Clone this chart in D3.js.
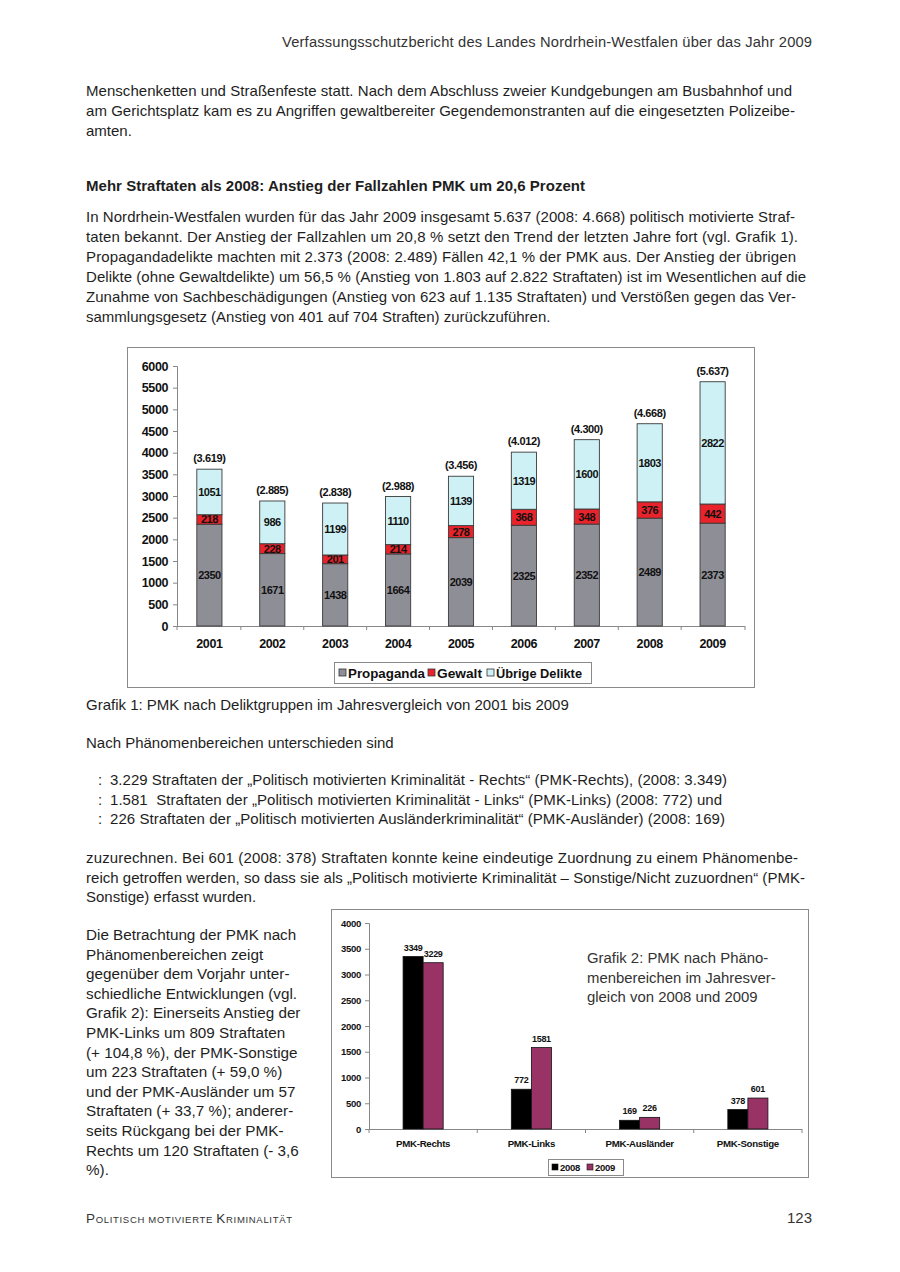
<!DOCTYPE html>
<html>
<head>
<meta charset="utf-8">
<script src="https://cdn.jsdelivr.net/npm/d3@7"></script>
<style>
  body { margin: 0; background: #fff; }
  text { font-family: "Liberation Sans", Arial, sans-serif; white-space: pre; }
</style>
</head>
<body>
<script>
// Grafik 1 data
const years = ["2001", "2002", "2003", "2004", "2005", "2006", "2007", "2008", "2009"]
const propaganda = [2350, 1671, 1438, 1664, 2039, 2325, 2352, 2489, 2373]
const gewalt = [218, 228, 201, 214, 278, 368, 348, 376, 442]
const uebrige = [1051, 986, 1199, 1110, 1139, 1319, 1600, 1803, 2822]
const keys1 = ["Propaganda", "Gewalt", "Übrige Delikte"]
const colors1 = ["#8e8e96", "#e8232b", "#cdf1f5"]
const yTicks1 = [0, 500, 1000, 1500, 2000, 2500, 3000, 3500, 4000, 4500, 5000, 5500, 6000]

// Grafik 2 data
const bereiche = ["PMK-Rechts", "PMK-Links", "PMK-Ausländer", "PMK-Sonstige"]
const jahre2 = ["2008", "2009"]
const werte2008 = [3349, 772, 169, 378]
const werte2009 = [3229, 1581, 226, 601]
const colors2 = ["#000000", "#993366"]
const yTicks2 = [0, 500, 1000, 1500, 2000, 2500, 3000, 3500, 4000]

const svg = d3.select("body").append("svg")
  .attr("width", 900)
  .attr("height", 1272)

svg.append("rect").attr("width", 900).attr("height", 1272).attr("fill", "#fff")

const ink = "#1e1e1e"

// draws one text line, stretched to the right edge if one is given
function line(txt, x, y, opts = {}) {
  let t = svg.append("text")
    .attr("x", x)
    .attr("y", y)
    .attr("font-size", opts.size || 15)
    .attr("font-weight", opts.bold ? "bold" : "normal")
    .attr("fill", opts.fill || ink)
    .attr("text-anchor", opts.anchor || "start")
    .text(txt)
  if (opts.end) {
    t.attr("textLength", opts.end - x).attr("lengthAdjust", "spacing")
  }
  return t
}

// ---- page text ----
line("Verfassungsschutzbericht des Landes Nordrhein-Westfalen über das Jahr 2009", 282, 47, { size: 14.7, fill: "#333", end: 812 })

line("Menschenketten und Straßenfeste statt. Nach dem Abschluss zweier Kundgebungen am Busbahnhof und", 86, 96, { end: 792 })
line("am Gerichtsplatz kam es zu Angriffen gewaltbereiter Gegendemonstranten auf die eingesetzten Polizeibe-", 86, 116, { end: 795 })
line("amten.", 86, 136)

line("Mehr Straftaten als 2008: Anstieg der Fallzahlen PMK um 20,6 Prozent", 86, 191, { bold: true, size: 15, end: 585 })

const p2 = [
  ["In Nordrhein-Westfalen wurden für das Jahr 2009 insgesamt 5.637 (2008: 4.668) politisch motivierte Straf-", 795],
  ["taten bekannt. Der Anstieg der Fallzahlen um 20,8 % setzt den Trend der letzten Jahre fort (vgl. Grafik 1).", 798],
  ["Propagandadelikte machten mit 2.373 (2008: 2.489) Fällen 42,1 % der PMK aus. Der Anstieg der übrigen", 796],
  ["Delikte (ohne Gewaltdelikte) um 56,5 % (Anstieg von 1.803 auf 2.822 Straftaten) ist im Wesentlichen auf die", 806],
  ["Zunahme von Sachbeschädigungen (Anstieg von 623 auf 1.135 Straftaten) und Verstößen gegen das Ver-", 796],
  ["sammlungsgesetz (Anstieg von 401 auf 704 Straften) zurückzuführen.", null]
]
p2.forEach((d, i) => line(d[0], 86, 222 + i * 20, d[1] ? { end: d[1] } : {}))

line("Grafik 1: PMK nach Deliktgruppen im Jahresvergleich von 2001 bis 2009", 86, 710)
line("Nach Phänomenbereichen unterschieden sind", 86, 748)

const bullets = [
  ["3.229 Straftaten der „Politisch motivierten Kriminalität - Rechts“ (PMK-Rechts), (2008: 3.349)", 727],
  ["1.581  Straftaten der „Politisch motivierten Kriminalität - Links“ (PMK-Links) (2008: 772) und", 722],
  ["226 Straftaten der „Politisch motivierten Ausländerkriminalität“ (PMK-Ausländer) (2008: 169)", 725]
]
bullets.forEach((b, i) => {
  let y = 785 + i * 19.5
  line(":", 98, y)
  line(b[0], 110, y, { end: b[1] })
})

line("zuzurechnen. Bei 601 (2008: 378) Straftaten konnte keine eindeutige Zuordnung zu einem Phänomenbe-", 86, 863, { end: 798 })
line("reich getroffen werden, so dass sie als „Politisch motivierte Kriminalität – Sonstige/Nicht zuzuordnen“ (PMK-", 86, 883, { end: 805 })
line("Sonstige) erfasst wurden.", 86, 902)

const leftCol = [
  "Die Betrachtung der PMK nach",
  "Phänomenbereichen zeigt",
  "gegenüber dem Vorjahr unter-",
  "schiedliche Entwicklungen (vgl.",
  "Grafik 2): Einerseits Anstieg der",
  "PMK-Links um 809 Straftaten",
  "(+ 104,8 %), der PMK-Sonstige",
  "um 223 Straftaten (+ 59,0 %)",
  "und der PMK-Ausländer um 57",
  "Straftaten (+ 33,7 %); anderer-",
  "seits Rückgang bei der PMK-",
  "Rechts um 120 Straftaten (- 3,6",
  "%)."
]
leftCol.forEach((t, i) => line(t, 86, 940 + i * 19.6, { size: 15.25 }))

// footer in small caps
let foot = svg.append("text").attr("x", 86).attr("y", 1223).attr("fill", "#333")
  .attr("textLength", 206).attr("lengthAdjust", "spacing")
foot.append("tspan").attr("font-size", 13.5).text("P")
foot.append("tspan").attr("font-size", 9.5).text("OLITISCH MOTIVIERTE ")
foot.append("tspan").attr("font-size", 13.5).text("K")
foot.append("tspan").attr("font-size", 9.5).text("RIMINALITÄT")
line("123", 812, 1223, { size: 15, anchor: "end", fill: "#333" })

// ---- Grafik 1: stacked bars ----
svg.append("rect")
  .attr("x", 127.5).attr("y", 347.5).attr("width", 627).attr("height", 340)
  .attr("fill", "#fff").attr("stroke", "#8a8a8a")

const table1 = years.map((y, i) => ({
  year: y,
  "Propaganda": propaganda[i],
  "Gewalt": gewalt[i],
  "Übrige Delikte": uebrige[i]
}))
const stacked = d3.stack().keys(keys1)(table1)

const x1 = d3.scaleBand().domain(years).range([177, 745]).paddingInner(0.6).paddingOuter(0.315)
const y1 = d3.scaleLinear().domain([0, 6000]).range([626, 366])
const de = d3.formatLocale({ decimal: ",", thousands: ".", grouping: [3], currency: ["", " €"] })
const fmtDe = de.format(",")

const g1 = svg.append("g")

g1.append("g")
  .attr("transform", "translate(177,0)")
  .call(d3.axisLeft(y1).tickValues(yTicks1).tickSize(4).tickPadding(5).tickFormat(d3.format("d")))
  .call(g => g.select(".domain").attr("stroke", "#888"))
  .call(g => g.selectAll(".tick line").attr("stroke", "#888"))
  .call(g => g.selectAll(".tick text")
    .attr("font-size", 12.5).attr("font-weight", "bold").attr("fill", "#111")
    .attr("font-family", "Liberation Sans, Arial, sans-serif").attr("letter-spacing", -0.4))

// category axis with ticks between the categories
g1.append("line").attr("x1", 177).attr("x2", 745).attr("y1", 626.5).attr("y2", 626.5).attr("stroke", "#888")
const bounds1 = [177].concat(years.slice(1).map((y, i) => (x1(years[i]) + x1.bandwidth() + x1(y)) / 2), [745])
g1.selectAll(".xt").data(bounds1).enter().append("line")
  .attr("x1", d => d).attr("x2", d => d).attr("y1", 626).attr("y2", 630).attr("stroke", "#888")
g1.selectAll(".xl").data(years).enter().append("text")
  .attr("x", d => x1(d) + x1.bandwidth() / 2)
  .attr("y", 648)
  .attr("text-anchor", "middle")
  .attr("font-size", 12.5).attr("font-weight", "bold").attr("letter-spacing", -0.4).attr("fill", "#111")
  .text(d => d)

const layers = g1.selectAll(".layer").data(stacked).enter().append("g")
  .attr("fill", (d, i) => colors1[i])

layers.selectAll("rect").data(d => d).enter().append("rect")
  .attr("x", d => x1(d.data.year))
  .attr("y", d => y1(d[1]))
  .attr("width", x1.bandwidth())
  .attr("height", d => y1(d[0]) - y1(d[1]))
  .attr("stroke", "#3a3a3a").attr("stroke-width", 0.9)

layers.selectAll(".val").data(d => d.map(p => ({ p, key: d.key }))).enter().append("text")
  .attr("x", d => x1(d.p.data.year) + x1.bandwidth() / 2)
  .attr("y", d => y1((d.p[0] + d.p[1]) / 2) + 4)
  .attr("text-anchor", "middle")
  .attr("font-size", 11).attr("font-weight", "bold").attr("letter-spacing", -0.5)
  .attr("fill", "#111")
  .text(d => d.p[1] - d.p[0])

g1.selectAll(".tot").data(table1).enter().append("text")
  .attr("x", d => x1(d.year) + x1.bandwidth() / 2)
  .attr("y", d => y1(d["Propaganda"] + d["Gewalt"] + d["Übrige Delikte"]) - 7)
  .attr("text-anchor", "middle")
  .attr("font-size", 11).attr("font-weight", "bold").attr("letter-spacing", -0.4).attr("fill", "#111")
  .text(d => "(" + fmtDe(d["Propaganda"] + d["Gewalt"] + d["Übrige Delikte"]) + ")")

// legend
const leg1 = g1.append("g")
leg1.append("rect").attr("x", 334.5).attr("y", 662.5).attr("width", 257).attr("height", 21)
  .attr("fill", "#fff").attr("stroke", "#8a8a8a")
const leg1x = [339, 428, 487]
const leg1w = [77, 45, 86]
keys1.forEach((k, i) => {
  leg1.append("rect").attr("x", leg1x[i]).attr("y", 669).attr("width", 7).attr("height", 7)
    .attr("fill", colors1[i]).attr("stroke", "#333").attr("stroke-width", 0.8)
  leg1.append("text").attr("x", leg1x[i] + 9).attr("y", 677.5)
    .attr("font-size", 12.5).attr("font-weight", "bold").attr("fill", "#111")
    .attr("textLength", leg1w[i]).attr("lengthAdjust", "spacingAndGlyphs")
    .text(k)
})

// ---- Grafik 2: grouped bars ----
svg.append("rect")
  .attr("x", 331.5).attr("y", 909.5).attr("width", 477).attr("height", 268)
  .attr("fill", "#fff").attr("stroke", "#8a8a8a")

const table2 = bereiche.map((b, i) => ({ bereich: b, "2008": werte2008[i], "2009": werte2009[i] }))

const x0 = d3.scaleBand().domain(bereiche).range([369, 802])
const xs = d3.scaleBand().domain(jahre2).range([0, x0.bandwidth()]).paddingOuter(1.7)
const y2 = d3.scaleLinear().domain([0, 4000]).range([1129, 923])

const g2 = svg.append("g")

g2.append("g")
  .attr("transform", "translate(369,0)")
  .call(d3.axisLeft(y2).tickValues(yTicks2).tickSize(4).tickPadding(4).tickFormat(d3.format("d")))
  .call(g => g.select(".domain").attr("stroke", "#888"))
  .call(g => g.selectAll(".tick line").attr("stroke", "#888"))
  .call(g => g.selectAll(".tick text")
    .attr("font-size", 9.5).attr("font-weight", "bold").attr("fill", "#111")
    .attr("font-family", "Liberation Sans, Arial, sans-serif").attr("letter-spacing", -0.3))

g2.append("line").attr("x1", 369).attr("x2", 802).attr("y1", 1129.5).attr("y2", 1129.5).attr("stroke", "#888")
const bounds2 = bereiche.map(b => x0(b)).concat([802])
g2.selectAll(".xt").data(bounds2).enter().append("line")
  .attr("x1", d => d).attr("x2", d => d).attr("y1", 1129).attr("y2", 1133).attr("stroke", "#888")
g2.selectAll(".xl").data(bereiche).enter().append("text")
  .attr("x", d => x0(d) + x0.bandwidth() / 2)
  .attr("y", 1147)
  .attr("text-anchor", "middle")
  .attr("font-size", 9.7).attr("font-weight", "bold").attr("letter-spacing", -0.3).attr("fill", "#111")
  .text(d => d)

const groups = g2.selectAll(".grp").data(table2).enter().append("g")
  .attr("transform", d => `translate(${x0(d.bereich)},0)`)

groups.selectAll("rect").data(d => jahre2.map((j, i) => ({ j, i, v: d[j] }))).enter().append("rect")
  .attr("x", d => xs(d.j))
  .attr("y", d => y2(d.v))
  .attr("width", xs.bandwidth())
  .attr("height", d => y2(0) - y2(d.v))
  .attr("fill", d => colors2[d.i])
  .attr("stroke", "#111").attr("stroke-width", 0.8)

groups.selectAll(".val").data(d => jahre2.map((j, i) => ({ j, i, v: d[j] }))).enter().append("text")
  .attr("x", d => xs(d.j) + xs.bandwidth() / 2)
  .attr("y", d => y2(d.v) - 6)
  .attr("text-anchor", "middle")
  .attr("font-size", 9).attr("font-weight", "bold").attr("letter-spacing", -0.3).attr("fill", "#111")
  .text(d => d.v)

const note2 = ["Grafik 2: PMK nach Phäno-", "menbereichen im Jahresver-", "gleich von 2008 und 2009"]
note2.forEach((t, i) => line(t, 587, 963 + i * 19.5, { size: 14.9, fill: "#333" }))

const leg2 = g2.append("g")
leg2.append("rect").attr("x", 548.5).attr("y", 1159.5).attr("width", 75).attr("height", 16)
  .attr("fill", "#fff").attr("stroke", "#8a8a8a")
const leg2x = [552, 587]
jahre2.forEach((j, i) => {
  leg2.append("rect").attr("x", leg2x[i]).attr("y", 1164).attr("width", 6).attr("height", 6)
    .attr("fill", colors2[i]).attr("stroke", "#111").attr("stroke-width", 0.6)
  leg2.append("text").attr("x", leg2x[i] + 8).attr("y", 1171)
    .attr("font-size", 9.5).attr("font-weight", "bold").attr("letter-spacing", -0.3).attr("fill", "#111")
    .text(j)
})
</script>
</body>
</html>
